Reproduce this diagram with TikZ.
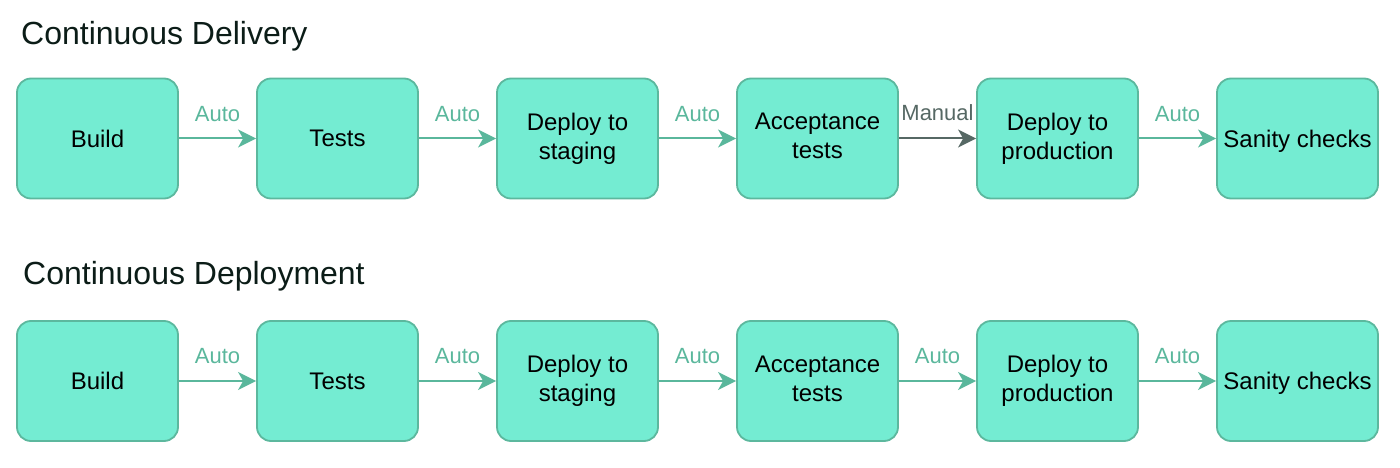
\documentclass[tikz,border=0pt]{standalone}
\usepackage{fontspec}
\setmainfont{Liberation Sans}
\usetikzlibrary{arrows.meta}
\definecolor{boxfill}{HTML}{74ECD2}
\definecolor{boxline}{HTML}{5CB89E}
\definecolor{autocol}{HTML}{5AB79C}
\definecolor{mancol}{HTML}{566864}
\definecolor{titlecol}{HTML}{0B1C17}
\begin{document}
\begin{tikzpicture}[x=1pt,y=-1pt,
  stagebox/.style={draw=boxline, fill=boxfill, line width=1.8pt, rounded corners=14pt,
    minimum width=161pt, minimum height=120pt, inner sep=2pt, align=center,
    font=\fontsize{24}{28.8}\selectfont, text=black},
  autoarr/.style={draw=autocol, line width=2pt, -{Stealth[length=18pt,width=18pt,inset=5pt]}},
  manarr/.style={draw=mancol, line width=2pt, -{Stealth[length=18pt,width=18pt,inset=5pt]}},
  autolbl/.style={text=autocol, font=\fontsize{22}{26}\selectfont, inner sep=0pt, above=16pt},
  manlbl/.style={text=mancol, font=\fontsize{22}{26}\selectfont, inner sep=0pt, above=17pt},
  titletext/.style={text=titlecol, font=\fontsize{32}{38}\selectfont, inner sep=0pt, anchor=base west}
]
\useasboundingbox (0,0) rectangle (1400,468);

\node[titletext] (t1) at (21,45) {Continuous Delivery};
\node[titletext] (t2) at (23,284) {Continuous Deployment};

% Row 1
\node[stagebox] (a1) at (97.5,138.5) {Build};
\node[stagebox] (a2) at (337.5,138.5) {Tests};
\node[stagebox] (a3) at (577.5,138.5) {Deploy to\\staging};
\node[stagebox] (a4) at (817.5,138.5) {Acceptance\\tests\vphantom{g}};
\node[stagebox] (a5) at (1057.5,138.5) {Deploy to\\production};
\node[stagebox] (a6) at (1297.5,138.5) {\raisebox{0pt}[\height][0pt]{Sanity checks}};

\draw[autoarr] (a1) -- node[autolbl] (la1) {Auto} (a2);
\draw[autoarr] (a2) -- node[autolbl] (la2) {Auto} (a3);
\draw[autoarr] (a3) -- node[autolbl] (la3) {Auto} (a4);
\draw[manarr] (a4) -- node[manlbl] (la4) {Manual} (a5);
\draw[autoarr] (a5) -- node[autolbl] (la5) {Auto} (a6);

% Row 2
\node[stagebox] (b1) at (97.5,381) {Build};
\node[stagebox] (b2) at (337.5,381) {Tests};
\node[stagebox] (b3) at (577.5,381) {Deploy to\\staging};
\node[stagebox] (b4) at (817.5,381) {Acceptance\\tests\vphantom{g}};
\node[stagebox] (b5) at (1057.5,381) {Deploy to\\production};
\node[stagebox] (b6) at (1297.5,381) {\raisebox{0pt}[\height][0pt]{Sanity checks}};

\draw[autoarr] (b1) -- node[autolbl] (lb1) {Auto} (b2);
\draw[autoarr] (b2) -- node[autolbl] (lb2) {Auto} (b3);
\draw[autoarr] (b3) -- node[autolbl] (lb3) {Auto} (b4);
\draw[autoarr] (b4) -- node[autolbl] (lb4) {Auto} (b5);
\draw[autoarr] (b5) -- node[autolbl] (lb5) {Auto} (b6);
\end{tikzpicture}
\end{document}
